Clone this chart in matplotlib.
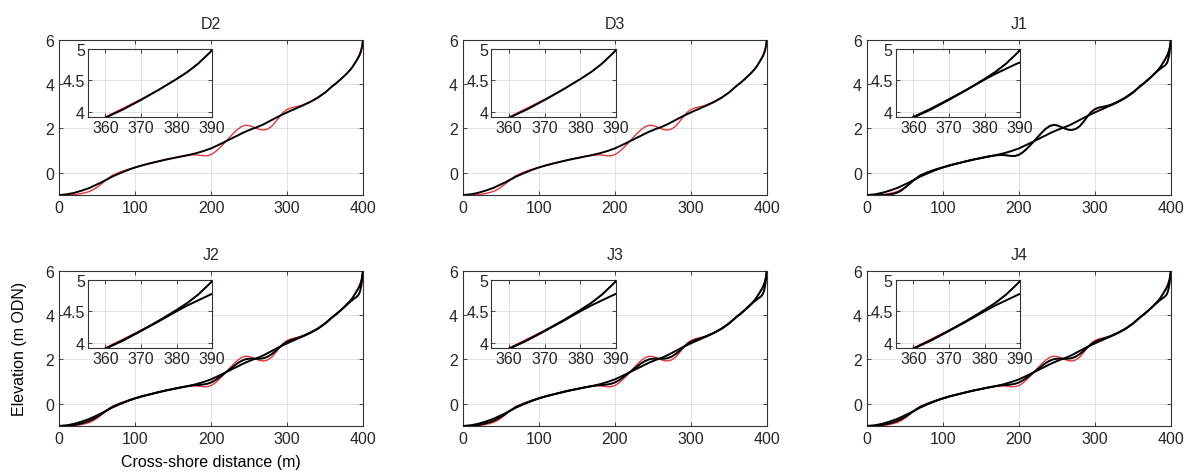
import matplotlib
matplotlib.use('Agg')
import matplotlib.pyplot as plt

plt.rcParams['font.family'] = ['Liberation Sans', 'DejaVu Sans']
plt.rcParams['font.size'] = 11.5
plt.rcParams['text.color'] = '#262626'
plt.rcParams['xtick.color'] = '#262626'
plt.rcParams['ytick.color'] = '#262626'

# --- data ---------------------------------------------------------------
titles = ['D2', 'D3', 'J1', 'J2', 'J3', 'J4']

x = [0, 10, 20, 25, 30, 35, 40, 45, 50, 55, 60, 65, 70,
     80, 90, 100, 110, 120, 130, 140, 150, 160, 170,
     175, 180, 185, 190, 195, 200, 205, 210, 215, 220, 225, 230, 235, 240,
     245, 250, 255, 260, 265, 270, 275, 280, 285, 290, 295, 300, 305, 310,
     315, 320, 330, 340, 350, 360, 365, 370, 375, 380,
     383, 386, 389, 391, 393, 395, 396, 397, 398, 399, 400]

# measured profile (red), same in every panel
measured = [-1.00, -1.00, -0.98, -0.96, -0.93, -0.89, -0.84, -0.76, -0.65, -0.52, -0.38, -0.24, -0.12,
            0.03, 0.15, 0.25, 0.35, 0.43, 0.52, 0.60, 0.67, 0.74, 0.79,
            0.81, 0.81, 0.79, 0.77, 0.77, 0.82, 0.93, 1.08, 1.25, 1.43, 1.62, 1.80, 1.96, 2.08,
            2.14, 2.13, 2.07, 2.00, 1.94, 1.93, 1.98, 2.10, 2.30, 2.52, 2.72, 2.85, 2.92, 2.96,
            3.00, 3.05, 3.20, 3.39, 3.62, 3.92, 4.06, 4.20, 4.35, 4.52,
            4.63, 4.76, 4.92, 5.05, 5.18, 5.32, 5.40, 5.50, 5.62, 5.80, 6.00]

# smooth modelled profile
smooth = [-1.00, -0.97, -0.90, -0.85, -0.80, -0.74, -0.68, -0.60, -0.52, -0.44, -0.35, -0.26, -0.17,
          -0.02, 0.12, 0.24, 0.34, 0.43, 0.51, 0.59, 0.66, 0.73, 0.80,
          0.84, 0.88, 0.93, 0.98, 1.04, 1.10, 1.18, 1.26, 1.34, 1.43, 1.51, 1.60, 1.68, 1.77,
          1.85, 1.92, 1.99, 2.05, 2.12, 2.20, 2.29, 2.38, 2.47, 2.56, 2.64, 2.72, 2.80, 2.87,
          2.95, 3.02, 3.18, 3.37, 3.61, 3.91, 4.04, 4.19, 4.35, 4.52,
          4.63, 4.76, 4.92, 5.03, 5.14, 5.26, 5.34, 5.44, 5.56, 5.74, 6.00]

# modelled profile keeping part of the bars (J2-J4)
barred = [-1.00, -0.99, -0.95, -0.92, -0.88, -0.83, -0.77, -0.69, -0.59, -0.48, -0.36, -0.25, -0.14,
          0.00, 0.13, 0.25, 0.35, 0.43, 0.52, 0.60, 0.67, 0.74, 0.80,
          0.82, 0.84, 0.85, 0.87, 0.90, 0.96, 1.05, 1.17, 1.30, 1.43, 1.57, 1.70, 1.83, 1.93,
          2.00, 2.03, 2.03, 2.03, 2.03, 2.06, 2.13, 2.24, 2.38, 2.54, 2.68, 2.79, 2.86, 2.92,
          2.98, 3.04, 3.19, 3.37, 3.61, 3.91, 4.04, 4.19, 4.34, 4.50,
          4.59, 4.67, 4.75, 4.80, 4.86, 4.96, 5.06, 5.20, 5.38, 5.65, 6.00]

# modelled profile keeping the full bars (J1)
barred_full = [-1.00, -1.00, -1.00, -0.99, -0.97, -0.94, -0.89, -0.80, -0.67, -0.53, -0.38, -0.24, -0.12,
               0.03, 0.15, 0.25, 0.35, 0.43, 0.52, 0.60, 0.67, 0.74, 0.79,
               0.80, 0.80, 0.78, 0.76, 0.76, 0.81, 0.92, 1.07, 1.25, 1.43, 1.62, 1.81, 1.98, 2.10,
               2.16, 2.14, 2.07, 2.00, 1.94, 1.93, 1.98, 2.10, 2.30, 2.53, 2.74, 2.87, 2.94, 2.97,
               3.01, 3.05, 3.20, 3.39, 3.62, 3.92, 4.05, 4.20, 4.35, 4.51,
               4.60, 4.68, 4.76, 4.80, 4.86, 4.96, 5.06, 5.20, 5.38, 5.65, 6.00]

model_lines = {
    'D2': [smooth],
    'D3': [smooth],
    'J1': [smooth, barred_full],
    'J2': [smooth, barred],
    'J3': [smooth, barred],
    'J4': [smooth, barred],
}

main_xticks = [0, 100, 200, 300, 400]
main_yticks = [0, 2, 4, 6]
inset_xticks = [360, 370, 380, 390]
inset_yticks = [4, 4.5, 5]
inset_ylabels = ['4', '4.5', '5']

# --- layout --------------------------------------------------------------
fig = plt.figure(figsize=(11.93, 4.77), dpi=100)
lefts = [0.0495, 0.388, 0.7267]
bottoms = [0.589, 0.1048]
w, h = 0.2548, 0.326

def style(ax):
    ax.grid(True, color='#dddddd', lw=0.6)
    ax.set_axisbelow(True)
    ax.tick_params(direction='in', length=3, top=True, right=True, width=0.6)
    for s in ax.spines.values():
        s.set_color('#333333'); s.set_linewidth(0.8)

for i, name in enumerate(titles):
    l, b = lefts[i % 3], bottoms[i // 3]
    ax = fig.add_axes([l, b, w, h])
    ax.plot(x, measured, color='#e8363a', lw=1.0, zorder=2)
    for yy in model_lines[name]:
        ax.plot(x, yy, color='black', lw=1.4, zorder=3)
    ax.set_xlim(0, 400); ax.set_ylim(-1, 6)
    ax.set_xticks(main_xticks); ax.set_yticks(main_yticks)
    ax.set_title(name, fontsize=11.5, pad=8)
    style(ax)
    if name == 'J2':
        ax.set_ylabel('Elevation (m ODN)', labelpad=13)
        ax.set_xlabel('Cross-shore distance (m)', labelpad=6)

    ins = fig.add_axes([l + 0.094 * w, b + h * (1 - 0.058 - 0.44), 0.41 * w, 0.44 * h])
    ins.plot(x, measured, color='#e8363a', lw=1.0, zorder=2)
    for yy in model_lines[name]:
        ins.plot(x, yy, color='black', lw=1.4, zorder=3)
    ins.set_xlim(355, 390); ins.set_ylim(3.92, 5)
    ins.set_xticks(inset_xticks); ins.set_yticks(inset_yticks)
    ins.set_yticklabels(inset_ylabels)
    ins.tick_params(pad=2)
    style(ins)

plt.savefig('out.png', dpi=100)
